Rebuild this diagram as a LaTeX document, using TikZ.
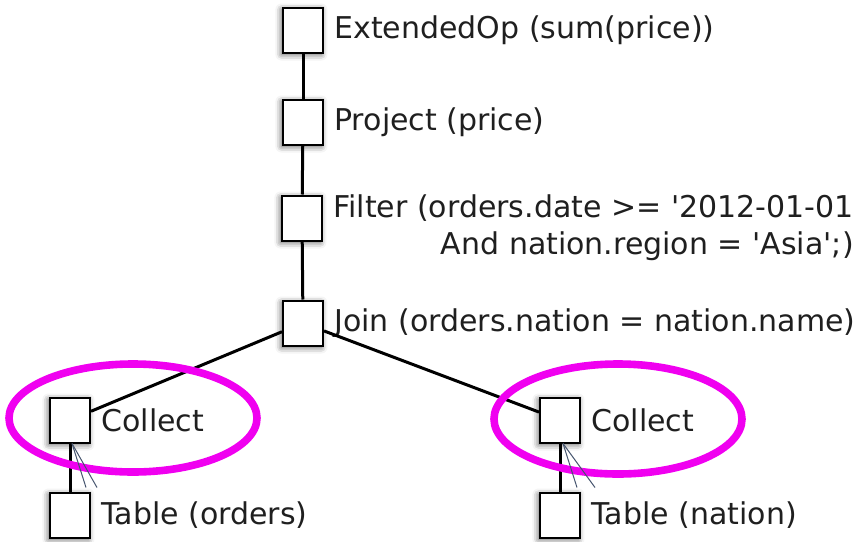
\documentclass[tikz,border=0pt]{standalone}
\usepackage{fontspec}
\setmainfont{DejaVu Sans}
\usetikzlibrary{shadows.blur}
\definecolor{hilite}{RGB}{240,0,240}
\definecolor{slate}{RGB}{70,85,110}
\begin{document}
\begin{tikzpicture}[x=0.5pt, y=-0.5pt, label distance=5pt]
        \tikzstyle{op}=[draw, rectangle, fill=white, line width=1pt,
            minimum width=20pt, minimum height=22.5pt, inner sep=0pt,
            blur shadow={shadow xshift=-0.8pt, shadow yshift=-1pt,
                shadow blur radius=3pt, shadow opacity=65}]
        \tikzstyle{lbl}=[font=\fontsize{15}{18.5}\selectfont,
            text=black!88, inner sep=0pt]
        \tikzstyle{edge}=[line width=1.5pt]
        \tikzstyle{ring}=[draw=hilite, line width=3.8pt]
        \tikzstyle{ghost}=[draw=slate, line width=0.5pt]
        \useasboundingbox (0,0) rectangle (867,541);

        \node[op, label={[lbl]right:ExtendedOp (sum(price))}] (ext) at (303, 30) {};
        \node[op, label={[lbl]right:Project (price)}] (proj) at (303, 122) {};
        \node[op] (filt) at (302, 218) {};
        \node[lbl, align=right, anchor=north west] (filtL)
            at ([xshift=5pt]filt.north east)
            {Filter (orders.date >= \textquotesingle 2012-01-01\\
             And nation.region = \textquotesingle Asia\textquotesingle;)};
        \node[op, label={[lbl]right:Join (orders.nation = nation.name)}] (join) at (303, 323) {};
        \node[op, label={[lbl]right:Collect}] (colL) at (70, 420) {};
        \node[op, label={[lbl]right:Table (orders)}] (tabL) at (70, 515) {};
        \node[op, label={[lbl]right:Collect}] (colR) at (560, 420) {};
        \node[op, label={[lbl]right:Table (nation)}] (tabR) at (560, 515) {};

        \draw[edge] (ext) to (proj);
        \draw[edge] (proj) to (filt);
        \draw[edge] (filt) to (join);
        \draw[edge] (join) to (colL);
        \draw[edge] (join) to (colR);
        \draw[edge] (colL) to (tabL);
        \draw[edge] (colR) to (tabR);

        % highlighted collect operators
        \draw[ring] (133, 418) ellipse [x radius=62pt, y radius=27pt];
        \draw[ring] (618, 419) ellipse [x radius=62pt, y radius=27.5pt];

        \draw[ghost] ([xshift=1pt]colL.south) -- ++(14, 44);
        \draw[ghost] ([xshift=1pt]colL.south) -- ++(25, 44);
        \draw[ghost] ([xshift=1.5pt]colR.south) -- ++(14, 44);
        \draw[ghost] ([xshift=1.5pt]colR.south) -- ++(32, 44);

    \end{tikzpicture}
\end{document}
